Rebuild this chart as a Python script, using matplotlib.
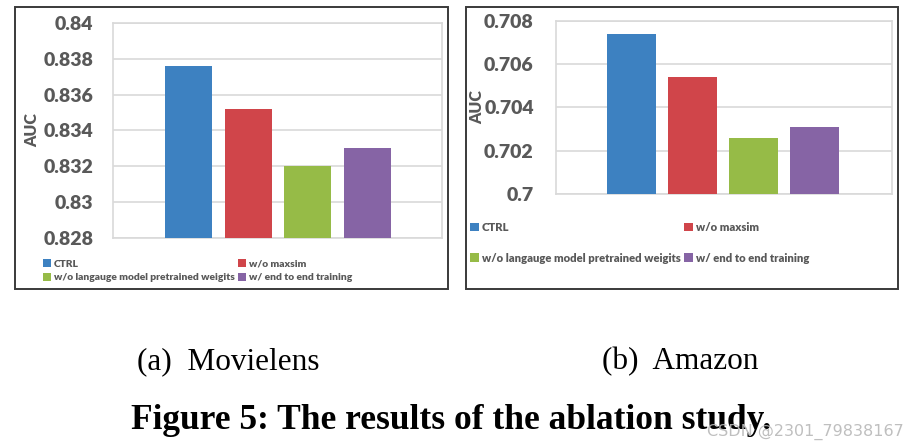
import matplotlib
matplotlib.use("Agg")
import matplotlib.pyplot as plt
from matplotlib.patches import Rectangle

W, H = 908, 448

variants = ["CTRL", "w/o maxsim", "w/o langauge model pretrained weigits", "w/ end to end training"]
colors = ["#3d81c1", "#d0454a", "#96bb47", "#8664a5"]

movielens_auc = [0.8376, 0.8352, 0.8320, 0.8330]
movielens_ticks = [0.828, 0.83, 0.832, 0.834, 0.836, 0.838, 0.84]
movielens_ticklabels = ["0.828", "0.83", "0.832", "0.834", "0.836", "0.838", "0.84"]

amazon_auc = [0.7074, 0.7054, 0.7026, 0.7031]
amazon_ticks = [0.7, 0.702, 0.704, 0.706, 0.708]
amazon_ticklabels = ["0.7", "0.702", "0.704", "0.706", "0.708"]

txt = "#595959"
font = "Lato"


def box(x0, y0, x1, y1):
    # pixel box (top-left origin) -> figure fraction
    return [x0 / W, 1 - y1 / H, (x1 - x0) / W, (y1 - y0) / H]


def panel(fig, rect, values, ticks, ticklabels, xlim, width, tick_size, pad):
    ax = fig.add_axes(box(*rect))
    bars = ax.bar(range(len(values)), [v - ticks[0] for v in values], bottom=ticks[0],
                  width=width, color=colors, zorder=3)
    ax.set_xlim(*xlim)
    ax.set_ylim(ticks[0], ticks[-1])
    ax.set_yticks(ticks)
    ax.set_yticklabels(ticklabels, fontsize=tick_size, fontweight="heavy", color=txt, family=font)
    ax.set_xticks([])
    ax.tick_params(axis="y", length=0, pad=pad)
    ax.grid(axis="y", color="#d9d9d9", linewidth=1.2, zorder=0)
    for s in ax.spines.values():
        s.set_color("#d9d9d9")
        s.set_linewidth(1.2)
    return ax, bars


fig = plt.figure(figsize=(W / 100, H / 100), dpi=100)

# outer frames
for r in [(15, 7, 448, 289), (466, 7, 898, 289)]:
    fig.patches.append(Rectangle((r[0] / W, 1 - r[3] / H), (r[2] - r[0]) / W, (r[3] - r[1]) / H,
                                 transform=fig.transFigure, fill=False,
                                 edgecolor="#3a3a3a", linewidth=1.4))

ax1, bars1 = panel(fig, (113, 23, 442, 238), movielens_auc, movielens_ticks, movielens_ticklabels,
                   (-1.265, 4.248), 0.79, 14, 14)
ax2, bars2 = panel(fig, (556, 21, 892, 194), amazon_auc, amazon_ticks, amazon_ticklabels,
                   (-1.238, 4.27), 0.80, 14, 16)

fig.text(32 / W, 1 - 130 / H, "AUC", rotation=90, ha="center", va="center",
         fontsize=11.5, fontweight="heavy", color=txt, family=font)
fig.text(477 / W, 1 - 107 / H, "AUC", rotation=90, ha="center", va="center",
         fontsize=11.5, fontweight="heavy", color=txt, family=font)

order = [0, 2, 1, 3]
for bars, anchor, fs, lspace in [(bars1, (43, 259), 7.4, 0.42), (bars2, (470, 222), 8.1, 1.75)]:
    leg = fig.legend([bars[i] for i in order], [variants[i] for i in order], ncol=2,
                     loc="upper left", bbox_to_anchor=(anchor[0] / W, 1 - anchor[1] / H),
                     frameon=False, handlelength=0.8, handleheight=0.8, handletextpad=0.25,
                     columnspacing=0.3, labelspacing=lspace, borderpad=0, borderaxespad=0,
                     prop={"family": font, "weight": "heavy", "size": fs})
    for t in leg.get_texts():
        t.set_color(txt)

fig.text(228 / W, 1 - 362 / H, "(a)  Movielens", ha="center", va="center",
         fontsize=22.5, family="Liberation Serif")
fig.text(680 / W, 1 - 362 / H, "(b)  Amazon", ha="center", va="center",
         fontsize=22.5, family="Liberation Serif")
fig.text(451 / W, 1 - 420 / H, "Figure 5: The results of the ablation study.", ha="center", va="center",
         fontsize=25.5, fontweight="bold", family="Liberation Serif")
# watermark overlaps the caption in the original screenshot too
fig.text(904 / W, 1 - 432 / H, "CSDN @2301_79838167", ha="right", va="center",
         fontsize=11.5, color="#b8b8b8", alpha=0.9, family="DejaVu Sans")

fig.savefig("out.png", dpi=100)
